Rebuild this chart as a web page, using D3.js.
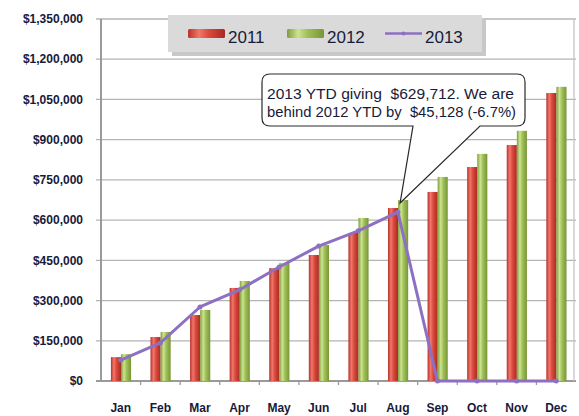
<!DOCTYPE html>
<html>
<head>
<meta charset="utf-8">
<title>Giving by month</title>
<style>
  body { margin: 0; background: #fff; }
  svg { display: block; }
  text { white-space: pre; }
</style>
</head>
<body>
<svg width="579" height="416"></svg>
<script src="https://d3js.org/d3.v7.min.js"></script>
<script>
const months = ["Jan", "Feb", "Mar", "Apr", "May", "Jun", "Jul", "Aug", "Sep", "Oct", "Nov", "Dec"]
const giving2011 = [89000, 164000, 246000, 347000, 421000, 470000, 552000, 645000, 705000, 798000, 880000, 1074000]
const giving2012 = [100000, 183000, 265000, 373000, 440000, 507000, 608000, 674840, 761000, 847000, 933000, 1097000]
const giving2013 = [78000, 142000, 276000, 340000, 425000, 503000, 560000, 629712, 0, 0, 0, 0]
const yTicks = [0, 150000, 300000, 450000, 600000, 750000, 900000, 1050000, 1200000, 1350000]
const callout = ["2013 YTD giving  $629,712. We are", "behind 2012 YTD by  $45,128 (-6.7%)"]

const svg = d3.select("svg")
const plotLeft = 101, plotRight = 576, plotTop = 19, plotBottom = 381
const textColor = "#171a3a"

const x = d3.scaleBand().domain(months).range([plotLeft, plotRight])
const x1 = d3.scaleBand().domain(["2011", "2012"])
    .range([x.bandwidth() * 0.25, x.bandwidth() * 0.76])
const y = d3.scaleLinear().domain([0, 1350000]).range([plotBottom, plotTop])

// gradients for the cylinder look of the bars
const defs = svg.append("defs")
const grad = (id, stops) => {
    const g = defs.append("linearGradient").attr("id", id)
        .attr("x1", "0%").attr("x2", "100%").attr("y1", "0%").attr("y2", "0%")
    stops.forEach(([o, c]) => g.append("stop").attr("offset", o).attr("stop-color", c))
}
grad("red", [["0%", "#b8322a"], ["30%", "#f0776b"], ["55%", "#dc4a3e"], ["100%", "#a82a22"]])
grad("green", [["0%", "#7f9c3e"], ["30%", "#cde48f"], ["55%", "#9fc15a"], ["100%", "#789536"]])

// gridlines
svg.append("g")
    .selectAll("line")
    .data(yTicks)
    .join("line")
    .attr("x1", plotLeft - 5)
    .attr("x2", plotRight)
    .attr("y1", d => y(d))
    .attr("y2", d => y(d))
    .attr("stroke", d => d === 0 ? "#9a9a9a" : "#b4b4b4")
    .attr("stroke-width", d => d === 0 ? 2 : 1.3)

// y labels
svg.append("g")
    .attr("font-family", "Liberation Sans, Arial, sans-serif")
    .attr("font-weight", "bold")
    .attr("font-size", 12)
    .attr("fill", textColor)
    .attr("text-anchor", "end")
    .selectAll("text")
    .data(yTicks)
    .join("text")
    .attr("x", 83)
    .attr("y", d => y(d))
    .attr("dy", "0.35em")
    .text(d => d3.format("$,")(d))

// plot borders
svg.append("line").attr("x1", plotLeft).attr("x2", plotLeft).attr("y1", plotTop).attr("y2", plotBottom + 1)
    .attr("stroke", "#9a9a9a").attr("stroke-width", 2)
svg.append("line").attr("x1", plotRight - 2).attr("x2", plotRight - 2).attr("y1", plotTop).attr("y2", plotBottom)
    .attr("stroke", "#c4c4c4").attr("stroke-width", 1.3)

// x ticks at band edges
svg.append("g")
    .selectAll("line")
    .data(months.slice(1))
    .join("line")
    .attr("x1", d => x(d))
    .attr("x2", d => x(d))
    .attr("y1", plotBottom)
    .attr("y2", plotBottom + 4)
    .attr("stroke", "#9a9a9a")
    .attr("stroke-width", 1.3)

// bars
const rows = months.map((m, i) => ({ month: m, values: [["2011", giving2011[i]], ["2012", giving2012[i]]] }))
svg.append("g")
    .selectAll("g")
    .data(rows)
    .join("g")
    .attr("transform", d => `translate(${x(d.month)},0)`)
    .selectAll("rect")
    .data(d => d.values)
    .join("rect")
    .attr("x", d => x1(d[0]))
    .attr("y", d => y(d[1]))
    .attr("width", x1.bandwidth())
    .attr("height", d => plotBottom - y(d[1]))
    .attr("fill", d => d[0] === "2011" ? "url(#red)" : "url(#green)")

// 2013 line
const line = d3.line()
    .x((d, i) => x(months[i]) + x.bandwidth() / 2)
    .y(d => y(d))
svg.append("path")
    .datum(giving2013)
    .attr("d", line)
    .attr("fill", "none")
    .attr("stroke", "#8d70c2")
    .attr("stroke-width", 3)
    .attr("stroke-linejoin", "round")
svg.append("g")
    .selectAll("circle")
    .data(giving2013)
    .join("circle")
    .attr("cx", (d, i) => x(months[i]) + x.bandwidth() / 2)
    .attr("cy", d => y(d))
    .attr("r", 2.5)
    .attr("fill", "#8d70c2")

// x labels
svg.append("g")
    .attr("font-family", "Liberation Sans, Arial, sans-serif")
    .attr("font-weight", "bold")
    .attr("font-size", 12)
    .attr("fill", textColor)
    .attr("text-anchor", "middle")
    .selectAll("text")
    .data(months)
    .join("text")
    .attr("x", d => x(d) + x.bandwidth() / 2)
    .attr("y", 408)
    .attr("dy", "0.35em")
    .text(d => d)

// legend
const legend = svg.append("g")
legend.append("rect").attr("x", 172).attr("y", 19).attr("width", 314).attr("height", 37).attr("fill", "#c8c8c8")
legend.append("rect").attr("x", 168).attr("y", 15).attr("width", 314).attr("height", 37).attr("fill", "#dadada")
const legendItems = [
    { name: "2011", x: 188, type: "bar", fill: "url(#red)" },
    { name: "2012", x: 287, type: "bar", fill: "url(#green)" },
    { name: "2013", x: 385, type: "line", fill: "#8d70c2" }
]
legendItems.forEach(it => {
    if (it.type === "bar") {
        legend.append("rect").attr("x", it.x).attr("y", 29).attr("width", 37).attr("height", 9)
            .attr("fill", it.fill).attr("rx", 1.5)
    } else {
        legend.append("line").attr("x1", it.x).attr("x2", it.x + 37).attr("y1", 33.5).attr("y2", 33.5)
            .attr("stroke", it.fill).attr("stroke-width", 2.5)
        legend.append("circle").attr("cx", it.x + 18.5).attr("cy", 33.5).attr("r", 2).attr("fill", it.fill)
    }
    legend.append("text")
        .attr("x", it.x + 40)
        .attr("y", 43)
        .attr("font-family", "Liberation Sans, Arial, sans-serif")
        .attr("font-size", 17)
        .attr("fill", textColor)
        .text(it.name)
})

// callout with tail pointing at the Aug 2012 bar
const tipX = x("Aug") + x1("2012") + 2, tipY = y(giving2012[7]) + 3
const box = { x: 262, y: 74, w: 263, h: 52 }
const co = svg.append("g")
co.append("path")
    .attr("d", `M${box.x + 8},${box.y} H${box.x + box.w - 8} Q${box.x + box.w},${box.y} ${box.x + box.w},${box.y + 8}
        V${box.y + box.h - 8} Q${box.x + box.w},${box.y + box.h} ${box.x + box.w - 8},${box.y + box.h}
        H480 L${tipX},${tipY} L413,${box.y + box.h}
        H${box.x + 8} Q${box.x},${box.y + box.h} ${box.x},${box.y + box.h - 8}
        V${box.y + 8} Q${box.x},${box.y} ${box.x + 8},${box.y} Z`)
    .attr("fill", "#fff")
    .attr("stroke", "#2a2a2a")
    .attr("stroke-width", 1.2)
co.append("g")
    .attr("font-family", "Liberation Sans, Arial, sans-serif")
    .attr("font-size", 14)
    .attr("fill", textColor)
    .selectAll("text")
    .data(callout)
    .join("text")
    .attr("x", 267)
    .attr("y", (d, i) => 99 + i * 18)
    .attr("textLength", (d, i) => i === 0 ? 247 : 249)
    .attr("lengthAdjust", "spacingAndGlyphs")
    .text(d => d)
</script>
</body>
</html>
